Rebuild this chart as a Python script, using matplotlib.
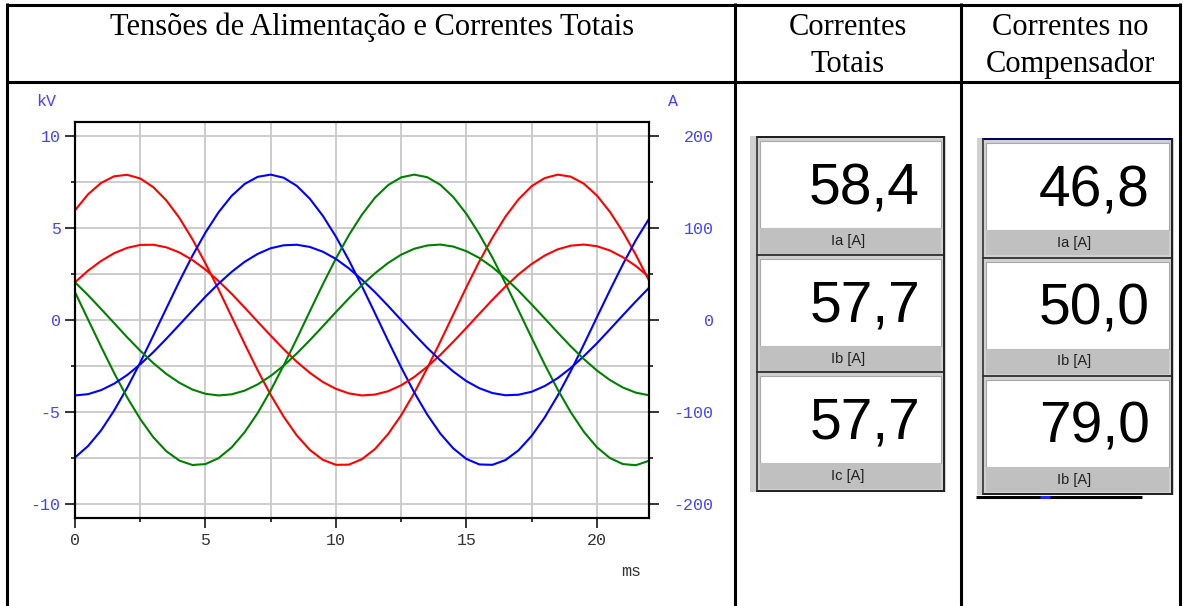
import numpy as np
import matplotlib
matplotlib.use("Agg")
import matplotlib.pyplot as plt
from matplotlib.patches import Rectangle
from matplotlib.ticker import MultipleLocator

plt.rcParams.update({"axes.unicode_minus": False})

# ---- data (0.5 ms samples, 0..22 ms) ----
t_ms = np.arange(0, 22.25, 0.5)
# supply voltages [kV]
va_kv = [5.96, 6.83, 7.45, 7.81, 7.89, 7.69, 7.22, 6.50, 5.55, 4.39, 3.08, 1.67, 0.19, -1.29, -2.73,
         -4.07, -5.26, -6.27, -7.06, -7.60, -7.87, -7.86, -7.56, -7.01, -6.20, -5.18, -3.97, -2.62,
         -1.18, 0.30, 1.78, 3.19, 4.48, 5.62, 6.56, 7.27, 7.71, 7.90, 7.79, 7.41, 6.77, 5.88, 4.79, 3.53, 2.15]
vb_kv = [-7.47, -6.85, -6.00, -4.92, -3.68, -2.31, -0.85, 0.63, 2.10, 3.49, 4.75, 5.85, 6.74, 7.39, 7.78,
         7.90, 7.73, 7.29, 6.59, 5.66, 4.53, 3.24, 1.83, 0.36, -1.13, -2.57, -3.93, -5.14, -6.17, -6.98,
         -7.55, -7.85, -7.87, -7.61, -7.08, -6.30, -5.30, -4.11, -2.78, -1.34, 0.14, 1.61, 3.03, 4.35, 5.50]
vc_kv = [1.51, 0.03, -1.45, -2.88, -4.21, -5.38, -6.37, -7.13, -7.64, -7.88, -7.83, -7.51, -6.93, -6.10,
         -5.06, -3.83, -2.46, -1.02, 0.47, 1.94, 3.34, 4.62, 5.73, 6.65, 7.33, 7.75, 7.90, 7.76, 7.35, 6.68,
         5.77, 4.66, 3.39, 1.99, 0.52, -0.96, -2.41, -3.78, -5.01, -6.07, -6.91, -7.50, -7.83, -7.89, -7.65]
# total currents [A]
ia_a = [41.0, 53.6, 64.2, 72.6, 78.4, 81.6, 81.8, 79.0, 73.4, 65.2, 54.8, 42.4, 28.6, 13.6, -1.8, -17.0,
        -31.8, -45.4, -57.4, -67.4, -74.8, -79.8, -82.0, -81.0, -77.4, -71.0, -62.0, -50.8, -38.0, -23.6,
        -8.6, 6.8, 22.0, 36.4, 49.6, 60.8, 70.0, 76.8, 80.8, 82.0, 80.2, 75.6, 68.2, 58.6, 46.8]
ib_a = [-82.0, -80.6, -76.2, -69.2, -59.8, -48.2, -35.0, -20.4, -5.2, 10.2, 25.4, 39.4, 52.2, 63.2, 71.8,
        78.0, 81.2, 81.8, 79.4, 74.2, 66.4, 56.0, 43.8, 30.2, 15.4, 0.0, -15.4, -30.2, -43.8, -56.0, -66.4,
        -74.2, -79.4, -81.8, -81.2, -78.0, -71.8, -63.2, -52.2, -39.4, -25.4, -10.2, 5.2, 20.4, 35.0]
ic_a = [41.0, 27.0, 12.0, -3.4, -18.8, -33.4, -46.8, -58.6, -68.2, -75.6, -80.2, -82.0, -80.8, -76.8,
        -70.0, -60.8, -49.6, -36.4, -22.0, -6.8, 8.6, 23.6, 38.0, 50.8, 62.0, 71.0, 77.4, 81.0, 82.0, 79.8,
        74.8, 67.4, 57.4, 45.4, 31.8, 17.0, 1.8, -13.6, -28.6, -42.4, -54.8, -65.2, -73.4, -79.0, -81.8]

kv_ticks = [-10, -5, 0, 5, 10]
amp_ticks = [-200, -100, 0, 100, 200]
ms_ticks = [0, 5, 10, 15, 20]

tot_vals = ["58,4", "57,7", "57,7"]
tot_names = ["Ia [A]", "Ib [A]", "Ic [A]"]
comp_vals = ["46,8", "50,0", "79,0"]
comp_names = ["Ia [A]", "Ib [A]", "Ib [A]"]

W, H = 1183, 606
BLUE = "#4444ff"
MONO = "Liberation Mono"
SERIF = "Liberation Serif"
SANS = "Liberation Sans"
TSIZE = 22

fig = plt.figure(figsize=(W / 100, H / 100), dpi=100)

# overlay in pixel coords for the table frame and the meter widgets
ov = fig.add_axes([0, 0, 1, 1], zorder=0)
ov.set_xlim(0, W); ov.set_ylim(H, 0); ov.axis("off")

lw_tab = 2.2
for x in (7.5, 735, 961, 1180):
    ov.plot([x, x], [3, H], color="k", lw=lw_tab, solid_capstyle="butt")
for y in (4.5, 82):
    ov.plot([6, 1181.5], [y, y], color="k", lw=lw_tab, solid_capstyle="butt")

ov.text(372, 35, "Tensões de Alimentação e Correntes Totais", ha="center", va="baseline",
        fontsize=TSIZE, family=SERIF)
ov.text(848, 35, "Correntes", ha="center", va="baseline", fontsize=TSIZE, family=SERIF)
ov.text(848, 72, "Totais", ha="center", va="baseline", fontsize=TSIZE, family=SERIF)
ov.text(1070, 35, "Correntes no", ha="center", va="baseline", fontsize=TSIZE, family=SERIF)
ov.text(1070, 72, "Compensador", ha="center", va="baseline", fontsize=TSIZE, family=SERIF)


def meter(x0, xd, x1, tops, ph, vals, names, xnum, xname, topcol):
    bot = tops[-1] + ph
    ov.add_patch(Rectangle((x0, tops[0] - 1), x1 + 2 - x0, bot + 2 - tops[0], fc="#d0d0d0", ec="none"))
    for T, v, n in zip(tops, vals, names):
        ov.add_patch(Rectangle((xd + 3, T + 4), x1 - xd - 6, 87, fc="white", ec="#a8a8a8", lw=0.8))
        ov.add_patch(Rectangle((xd + 3, T + 91), x1 - xd - 6, ph - 93, fc="#c0c0c0", ec="none"))
        ov.plot([xd, x1], [T, T], color="#202020", lw=1.2)
        ov.text(xnum, T + 67, v, ha="right", va="baseline", fontsize=41, family=SANS)
        ov.text(xname, T + 104, n, ha="center", va="center", fontsize=10.5, family=SANS, color="#202020")
    ov.plot([xd, x1], [tops[0], tops[0]], color=topcol, lw=1.4)
    ov.plot([xd, x1], [bot, bot], color="#202020", lw=1.4)
    ov.plot([xd, xd], [tops[0], bot], color="#303030", lw=1.2)
    ov.plot([x1, x1], [tops[0], bot], color="#202020", lw=1.4)


meter(750, 757, 944, [137, 254.5, 372], 119, tot_vals, tot_names, 920, 848, "#202020")
meter(977, 983, 1172, [139, 257.5, 376], 118, comp_vals, comp_names, 1150, 1074, "#000060")
ov.plot([976, 1142], [497, 497], color="k", lw=2.2, solid_capstyle="butt")
ov.plot([1040, 1050], [497, 497], color="#2020ff", lw=2.2, solid_capstyle="butt")

# ---- scope plot ----
ax = fig.add_axes([75 / W, 1 - 518 / H, (649 - 75) / W, (518 - 122) / H], zorder=2)
ax.set_xlim(0, 22)
ax.set_ylim(-10.76, 10.76)
ax2 = ax.twinx()
ax2.set_ylim(-215.2, 215.2)

ax.set_xticks(ms_ticks)
ax.set_xticklabels([str(v) for v in ms_ticks])
ax.xaxis.set_minor_locator(MultipleLocator(2.5))
ax.set_yticks(kv_ticks)
ax.set_yticklabels([str(v) for v in kv_ticks])
ax.yaxis.set_minor_locator(MultipleLocator(2.5))
ax.grid(which="both", color="#c8c8c8", lw=1.3)
ax.set_axisbelow(True)

ax2.set_yticks(amp_ticks)
ax2.set_yticklabels([str(v) for v in amp_ticks])
ax2.yaxis.set_minor_locator(MultipleLocator(50))

for a in (ax, ax2):
    for s in a.spines.values():
        s.set_linewidth(1.5)
    a.tick_params(which="major", length=7, width=1.1, direction="out")
    a.tick_params(which="minor", length=3, width=1.1, direction="out")
ax.tick_params(axis="y", pad=3.4, labelcolor=BLUE, labelsize=12)
ax.tick_params(axis="x", pad=4, labelcolor="#333333", labelsize=12)
ax2.tick_params(axis="y", pad=39.5, labelcolor=BLUE, labelsize=12)
for lab in ax.get_xticklabels() + ax.get_yticklabels() + ax2.get_yticklabels():
    lab.set_family(MONO)
for lab in ax2.get_yticklabels():
    lab.set_horizontalalignment("right")

lw = 1.5
ax.plot(t_ms, va_kv, color="#ff0000", lw=lw)
ax.plot(t_ms, vb_kv, color="#0000ff", lw=lw)
ax.plot(t_ms, vc_kv, color="#008000", lw=lw)
ax2.plot(t_ms, ia_a, color="#ff0000", lw=lw)
ax2.plot(t_ms, ib_a, color="#0000ff", lw=lw)
ax2.plot(t_ms, ic_a, color="#008000", lw=lw)

ov.text(46, 101, "kV", ha="center", va="center", fontsize=12, family=MONO, color=BLUE)
ov.text(673, 101, "A", ha="center", va="center", fontsize=12, family=MONO, color=BLUE)
ov.text(631, 572, "ms", ha="center", va="center", fontsize=12, family=MONO, color="#333333")

fig.savefig("out.png", dpi=100)
